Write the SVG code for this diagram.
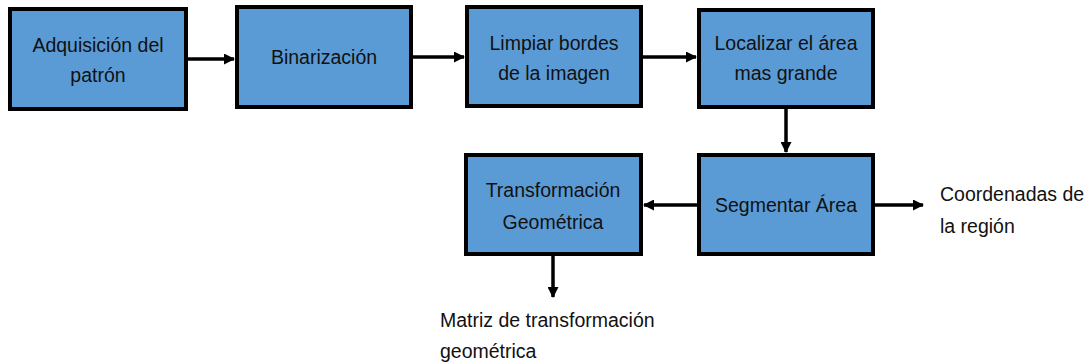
<svg xmlns="http://www.w3.org/2000/svg" width="1090" height="364" viewBox="0 0 1090 364">
<style>
.box{fill:#5B9BD5;stroke:#000;stroke-width:4}
.t{font-family:"Liberation Sans",Arial,sans-serif;font-size:19.5px;fill:#111}
.c{text-anchor:middle}
.e{stroke:#000;stroke-width:3.5;fill:none}
</style>
<defs>
<marker id="ah" markerWidth="11" markerHeight="11" refX="10" refY="5.5" orient="auto" markerUnits="userSpaceOnUse">
<path d="M0,0 L11,5.5 L0,11 z" fill="#000"/>
</marker>
</defs>
<rect width="1090" height="364" fill="#fff"/>
<g id="connectors">
<line class="e" x1="187" y1="59" x2="234" y2="59" marker-end="url(#ah)"/>
<line class="e" x1="412" y1="57" x2="464" y2="57" marker-end="url(#ah)"/>
<line class="e" x1="642" y1="57" x2="696" y2="57" marker-end="url(#ah)"/>
<line class="e" x1="786" y1="108" x2="786" y2="152" marker-end="url(#ah)"/>
<line class="e" x1="697" y1="205" x2="644" y2="205" marker-end="url(#ah)"/>
<line class="e" x1="875" y1="205" x2="923" y2="205" marker-end="url(#ah)"/>
<line class="e" x1="553" y1="256" x2="553" y2="297" marker-end="url(#ah)"/>
</g>
<g id="n1"><rect class="box" x="10" y="9" width="176" height="100"/>
<text class="t c" x="98" y="52">Adquisición del</text><text class="t c" x="98" y="82">patrón</text></g>
<g id="n2"><rect class="box" x="237" y="7" width="174" height="100"/>
<text class="t c" x="324" y="64">Binarización</text></g>
<g id="n3"><rect class="box" x="467" y="7" width="174" height="99"/>
<text class="t c" x="554" y="50">Limpiar bordes</text><text class="t c" x="554" y="80">de la imagen</text></g>
<g id="n4"><rect class="box" x="699" y="10" width="174" height="97"/>
<text class="t c" x="786" y="50">Localizar el área</text><text class="t c" x="786" y="80">mas grande</text></g>
<g id="n5"><rect class="box" x="699" y="155" width="174" height="99"/>
<text class="t c" x="786" y="212">Segmentar Área</text></g>
<g id="n6"><rect class="box" x="466" y="155" width="175" height="99"/>
<text class="t c" x="553" y="197">Transformación</text><text class="t c" x="553" y="229">Geométrica</text></g>
<g id="out1"><text class="t" x="940" y="201">Coordenadas de</text><text class="t" x="940" y="233">la región</text></g>
<g id="out2"><text class="t" x="440" y="327">Matriz de transformación</text><text class="t" x="440" y="358">geométrica</text></g>
</svg>
